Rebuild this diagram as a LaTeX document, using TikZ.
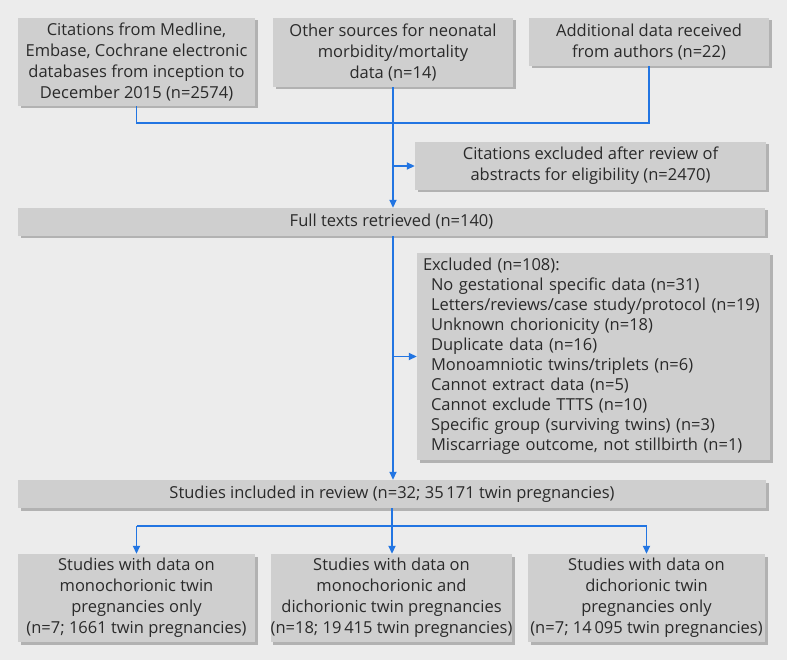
\documentclass[tikz,border=0pt]{standalone}
\usepackage{fontspec}
\setmainfont{Open Sans}
\usetikzlibrary{arrows.meta,shadows}
\definecolor{bggray}{HTML}{ECECEC}
\definecolor{boxgray}{HTML}{CFCFCF}
\definecolor{shadowgray}{HTML}{B2B2B2}
\definecolor{linkblue}{HTML}{2275E2}
\definecolor{txt}{HTML}{2A2A2A}
\begin{document}
\begin{tikzpicture}[x=1pt,y=-1pt,
  box/.style={fill=boxgray, draw=none, text=txt, align=center, inner sep=0pt,
    font=\fontsize{16.5}{21}\selectfont,
    general shadow={fill=shadowgray, shadow xshift=2.5pt, shadow yshift=-2.5pt}},
  listbox/.style={box, align=left, font=\fontsize{16.5}{20}\selectfont},
  link/.style={draw=linkblue, line width=1.8pt},
  arr/.style={link, -{Triangle[length=8pt,width=7pt]}}]
\fill[bggray] (0,0) rectangle (787,660);
\useasboundingbox (0,0) rectangle (787,660);

\node[box, minimum width=237pt, minimum height=88pt] (A) at (136.5,62)
  {Citations from Medline,\\Embase, Cochrane electronic\\databases from inception to\\December 2015 (n=2574)};
\node[box, minimum width=240pt, minimum height=69pt] (B) at (393,52.5)
  {Other sources for neonatal\\morbidity/mortality\\data (n=14)};
\node[box, minimum width=240pt, minimum height=48pt] (C) at (649,42)
  {Additional data received\\from authors (n=22)};
\node[box, minimum width=351pt, minimum height=48pt] (E1) at (590.5,166)
  {Citations excluded after review of\\abstracts for eligibility (n=2470)};
\node[box, minimum width=747pt, minimum height=28pt] (F) at (391.5,222)
  {Full texts retrieved (n=140)};
\node[listbox, minimum width=353pt, minimum height=207pt, text width=341pt, inner xsep=6pt] (E2) at (593.5,356.5)
  {Excluded (n=108):\\
   \hspace*{8pt}No gestational specific data (n=31)\\
   \hspace*{8pt}Letters/reviews/case study/protocol (n=19)\\
   \hspace*{8pt}Unknown chorionicity (n=18)\\
   \hspace*{8pt}Duplicate data (n=16)\\
   \hspace*{8pt}Monoamniotic twins/triplets (n=6)\\
   \hspace*{8pt}Cannot extract data (n=5)\\
   \hspace*{8pt}Cannot exclude TTTS (n=10)\\
   \hspace*{8pt}Specific group (surviving twins) (n=3)\\
   \hspace*{8pt}Miscarriage outcome, not stillbirth (n=1)};
\node[box, minimum width=748pt, minimum height=28pt] (I) at (392,494)
  {Studies included in review (n=32; 35\,171 twin pregnancies)};
\node[box, minimum width=237pt, minimum height=88pt] (L) at (136.5,598)
  {Studies with data on\\monochorionic twin\\pregnancies only\\(n=7; 1661 twin pregnancies)};
\node[box, minimum width=237pt, minimum height=88pt] (M) at (391.5,598)
  {Studies with data on\\monochorionic and\\dichorionic twin pregnancies\\(n=18; 19\,415 twin pregnancies)};
\node[box, minimum width=237pt, minimum height=88pt] (R) at (646.5,598)
  {Studies with data on\\dichorionic twin\\pregnancies only\\(n=7; 14\,095 twin pregnancies)};

\coordinate (j) at (393,123);
\coordinate (k) at (392,526);
\draw[link] (A.south) |- (j);
\draw[link] (C.south) |- (j);
\draw[arr] (B.south) -- (B.south |- F.north);
\draw[arr] (B.south |- E1.west) -- (E1.west);
\draw[arr] (B.south |- F.south) -- (B.south |- I.north);
\draw[arr] (B.south |- E2.west) -- (E2.west);
\draw[link] (I.south -| k) -- (k);
\draw[link] (L.north |- k) -- (R.north |- k);
\draw[arr] (L.north |- k) -- (L.north);
\draw[arr] (k) -- (k |- M.north);
\draw[arr] (R.north |- k) -- (R.north);
\end{tikzpicture}
\end{document}
